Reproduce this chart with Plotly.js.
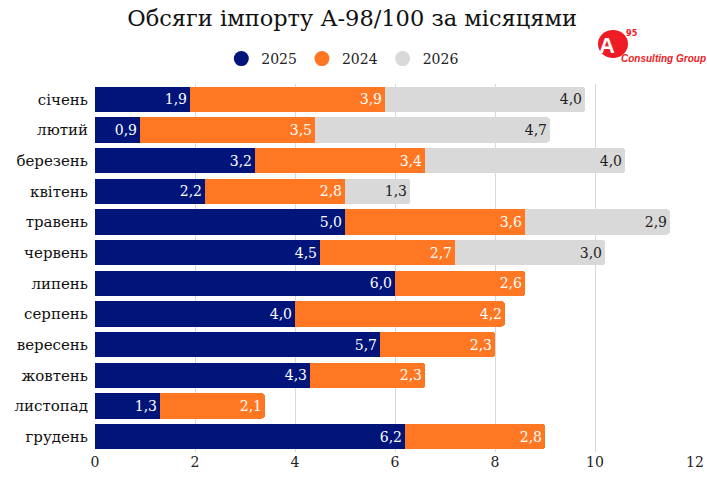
<!DOCTYPE html>
<html>
<head>
<meta charset="utf-8">
<script src="https://cdn.plot.ly/plotly-3.0.1.min.js"></script>
<style>
  html, body { margin: 0; padding: 0; background: #fff; }
  #chart { width: 707px; height: 480px; }
</style>
</head>
<body>
<div id="chart"></div>
<script>
// місяці та обсяги імпорту (тис. т)
const MONTHS = ['січень', 'лютий', 'березень', 'квітень', 'травень', 'червень',
  'липень', 'серпень', 'вересень', 'жовтень', 'листопад', 'грудень'];
const V2025 = [1.9, 0.9, 3.2, 2.2, 5.0, 4.5, 6.0, 4.0, 5.7, 4.3, 1.3, 6.2];
const V2024 = [3.9, 3.5, 3.4, 2.8, 3.6, 2.7, 2.6, 4.2, 2.3, 2.3, 2.1, 2.8];
const V2026 = [4.0, 4.7, 4.0, 1.3, 2.9, 3.0, null, null, null, null, null, null];
const X_TICKS = [0, 2, 4, 6, 8, 10, 12];

const FONT = 'DejaVu Serif';
const SERIES = [
  { name: '2025', vals: V2025, color: '#001479', text: '#ffffff' },
  { name: '2024', vals: V2024, color: '#ff7722', text: '#ffffff' },
  { name: '2026', vals: V2026, color: '#d9d9d9', text: '#222222' }
];

const traces = [];
SERIES.forEach(s => {
  traces.push({
    type: 'bar', orientation: 'h', name: s.name,
    y: MONTHS, x: s.vals, marker: { color: s.color, line: { width: 0 } },
    texttemplate: '%{x:.1f}', textposition: 'inside', insidetextanchor: 'end',
    constraintext: 'none', textangle: 0,
    textfont: { color: s.text, size: 14, family: FONT },
    showlegend: false, hoverinfo: 'skip'
  });
});
// легенда з круглими маркерами
SERIES.forEach(s => {
  traces.push({
    type: 'scatter', mode: 'markers', name: s.name, x: [null], y: [null],
    marker: { color: s.color, size: 15, symbol: 'circle' }, showlegend: true
  });
});

// логотип у пікселях полотна
const px = x => (x - 95) / 600;
const py = y => (452 - y) / 368;

const layout = {
  width: 707, height: 480,
  barmode: 'stack', bargap: 0.18, barcornerradius: 3,
  separators: ', ',
  paper_bgcolor: '#fff', plot_bgcolor: '#fff',
  margin: { l: 95, r: 12, t: 84, b: 28 },
  font: { family: FONT, color: '#222' },
  title: { text: 'Обсяги імпорту А-98/100 за місяцями', x: 0.498, xanchor: 'center', y: 0.963, yanchor: 'middle',
    font: { family: FONT, size: 22.5, color: '#111' } },
  legend: { orientation: 'h', x: 0.413, xanchor: 'center', y: 1.068, yanchor: 'middle',
    font: { size: 14, family: FONT, color: '#222' }, itemwidth: 30, traceorder: 'normal' },
  xaxis: { range: [0, 12], tickvals: X_TICKS, showgrid: true, gridcolor: '#d9d9d9', gridwidth: 1,
    zeroline: false, showline: false, ticks: '', tickfont: { size: 14, color: '#222', family: FONT } },
  yaxis: { autorange: 'reversed', type: 'category', ticks: '', ticklabelstandoff: 6,
    tickfont: { size: 15, color: '#111', family: FONT }, showgrid: false },
  shapes: [
    { type: 'circle', layer: 'below', xref: 'paper', yref: 'paper', xsizemode: 'pixel', ysizemode: 'pixel',
      xanchor: px(613), yanchor: py(44), x0: -15, x1: 15, y0: -14, y1: 14,
      fillcolor: '#ee1c25', line: { width: 0 } }
  ],
  annotations: [
    { xref: 'paper', yref: 'paper', x: px(607), y: py(45), xanchor: 'center', yanchor: 'middle',
      text: '<b>A</b>', showarrow: false,
      font: { family: 'Liberation Sans', size: 22, color: '#ffffff' } },
    { xref: 'paper', yref: 'paper', x: px(632), y: py(33), xanchor: 'center', yanchor: 'middle',
      text: '<b>95</b>', showarrow: false,
      font: { family: 'DejaVu Sans Condensed, DejaVu Sans', size: 9, color: '#ee1c25' } },
    { xref: 'paper', yref: 'paper', x: px(619), xanchor: 'left', y: py(51),
      text: '<b><i>Consulting Group</i></b>', showarrow: false,
      font: { family: 'Liberation Sans Narrow, Liberation Sans', size: 10, color: '#ee1c25' } }
  ]
};

Plotly.newPlot('chart', traces, layout, { displayModeBar: false, staticPlot: true });
</script>
</body>
</html>
